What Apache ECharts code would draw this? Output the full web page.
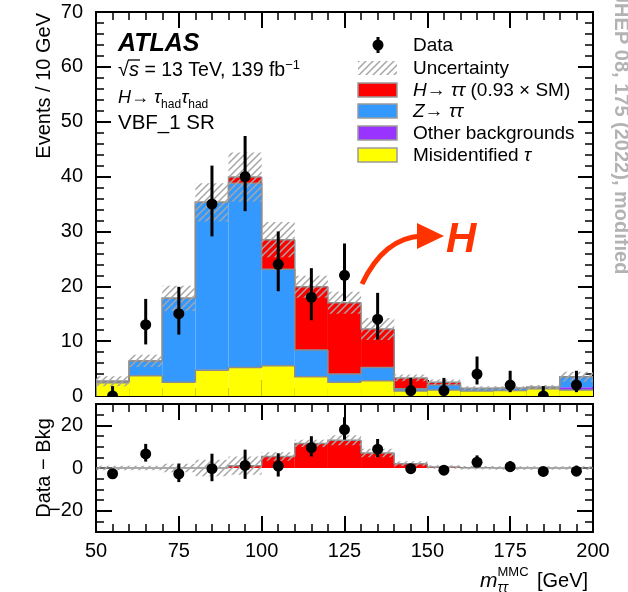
<!DOCTYPE html>
<html>
<head>
<meta charset="utf-8">
<script src="https://cdn.jsdelivr.net/npm/echarts@6/dist/echarts.min.js"></script>
<style>
html, body { margin: 0; padding: 0; background: #fff; }
#chart { width: 628px; height: 592px; }
</style>
</head>
<body>
<div id="chart"></div>
<script>
// bins of m_tautau (GeV)
var binEdges = [50, 60, 70, 80, 90, 100, 110, 120, 130, 140, 150, 160, 170, 180, 190, 200];
// stacked predictions, events per bin
var misidTau = [2.4, 3.7, 2.5, 4.7, 5.2, 5.5, 3.5, 2.5, 2.8, 0.9, 1.1, 0.9, 1.0, 1.3, 1.1];
var otherBkg = [0, 0, 0, 0.1, 0.1, 0.1, 0.1, 0, 0, 0, 0, 0, 0, 0, 0.5];
var zTauTau  = [0.3, 2.7, 15.3, 30.5, 33.5, 17.5, 4.8, 1.5, 2.4, 0.4, 0.9, 0.4, 0.4, 0.3, 1.9];
var hTauTau  = [0, 0, 0, 0, 1.1, 5.4, 11.5, 13.0, 7.0, 2.0, 0.5, 0.1, 0, 0, 0];
// half width of hatched uncertainty band, top panel and bottom panel
var bkgUnc  = [0.9, 1.1, 2.3, 3.5, 4.5, 3.2, 2.0, 2.0, 2.0, 0.6, 0.5, 0.4, 0.4, 0.4, 0.9];
var diffUnc = [1.0, 1.0, 2.0, 3.9, 4.3, 2.0, 1.7, 2.3, 2.0, 1.2, 0.8, 0.8, 0.8, 0.8, 0.8];
// data
var dataCounts  = [0, 13, 15, 35, 40, 24, 18, 22, 14, 1, 1, 4, 2, 0, 2];
var dataErrUp   = [1.8, 4.7, 4.9, 7.0, 7.4, 6.0, 5.3, 5.8, 4.8, 2.3, 2.3, 3.2, 2.6, 1.8, 2.6];
var dataErrDown = [0, 3.6, 3.8, 5.9, 6.3, 4.9, 4.2, 4.7, 3.7, 0.8, 0.8, 1.9, 1.3, 0, 1.3];

var FONT = '"Liberation Sans", Arial, sans-serif';
var RED = '#ff0000', BLUE = '#3399ff', PURPLE = '#9933ff', YELLOW = '#ffff00';
var EDGE = '#8c8c8c', ORANGE = '#ff3300';

var nBins = dataCounts.length;

function makeHatch() {
    var c = document.createElement('canvas');
    c.width = 7; c.height = 7;
    var g = c.getContext('2d');
    g.strokeStyle = '#a6a6a6';
    g.lineWidth = 1.5;
    g.beginPath();
    g.moveTo(0, 7); g.lineTo(7, 0);
    g.moveTo(-1, 1); g.lineTo(1, -1);
    g.moveTo(6, 8); g.lineTo(8, 6);
    g.stroke();
    return c;
}
var hatchFill = { image: makeHatch(), repeat: 'repeat' };

// cumulative stack
var lvl0 = [], lvl1 = [], lvl2 = [], lvl3 = [], lvl4 = [];
for (var i = 0; i < nBins; i++) {
    lvl0.push(0);
    lvl1.push(misidTau[i]);
    lvl2.push(lvl1[i] + otherBkg[i]);
    lvl3.push(lvl2[i] + zTauTau[i]);
    lvl4.push(lvl3[i] + hTauTau[i]);
}

function boxRows(low, high) {
    var rows = [];
    for (var i = 0; i < nBins; i++) rows.push([binEdges[i], binEdges[i + 1], low[i], high[i]]);
    return rows;
}
function stepRows(top) {
    var rows = [];
    for (var i = 0; i < nBins; i++) rows.push([binEdges[i], binEdges[i + 1], top[i], i ? top[i - 1] : 0]);
    return rows;
}

function boxSeries(xi, yi, rows, style) {
    return {
        type: 'custom', xAxisIndex: xi, yAxisIndex: yi, data: rows, silent: true, clip: true,
        renderItem: function (params, api) {
            var lo = api.value(2), hi = api.value(3);
            if (hi - lo <= 0) return null;
            var a = api.coord([api.value(0), hi]);
            var b = api.coord([api.value(1), lo]);
            return { type: 'rect', shape: { x: a[0], y: a[1], width: b[0] - a[0], height: b[1] - a[1] }, style: style };
        }
    };
}
function stepSeries(xi, yi, rows) {
    return {
        type: 'custom', xAxisIndex: xi, yAxisIndex: yi, data: rows, silent: true, clip: true,
        renderItem: function (params, api) {
            var p = api.coord([api.value(0), api.value(3)]);
            var q = api.coord([api.value(0), api.value(2)]);
            var r = api.coord([api.value(1), api.value(2)]);
            return { type: 'polyline', shape: { points: [p, q, r] }, style: { stroke: EDGE, lineWidth: 1.5, fill: null } };
        }
    };
}
function dataSeries(xi, yi, rows) {
    return {
        type: 'custom', xAxisIndex: xi, yAxisIndex: yi, data: rows, silent: true, clip: true,
        renderItem: function (params, api) {
            var x = api.value(0), y = api.value(1);
            var c = api.coord([x, y]);
            var t = api.coord([x, y + api.value(2)]);
            var b = api.coord([x, y - api.value(3)]);
            return {
                type: 'group', children: [
                    { type: 'line', shape: { x1: c[0], y1: t[1], x2: c[0], y2: b[1] }, style: { stroke: '#000', lineWidth: 3 } },
                    { type: 'circle', shape: { cx: c[0], cy: c[1], r: 5.5 }, style: { fill: '#000' } }
                ]
            };
        }
    };
}

var mainData = [], diffData = [], bandMain = [], bandDiff = [];
for (var i = 0; i < nBins; i++) {
    var xc = (binEdges[i] + binEdges[i + 1]) / 2;
    mainData.push([xc, dataCounts[i], dataErrUp[i], dataErrDown[i]]);
    diffData.push([xc, dataCounts[i] - lvl3[i], dataErrUp[i], dataErrDown[i]]);
    bandMain.push([binEdges[i], binEdges[i + 1], lvl4[i] - bkgUnc[i], lvl4[i] + bkgUnc[i]]);
    bandDiff.push([binEdges[i], binEdges[i + 1], hTauTau[i] - diffUnc[i], hTauTau[i] + diffUnc[i]]);
}

// axes
var axisLine = { onZero: false, lineStyle: { color: '#000', width: 2 } };
function xAxisDef(grid, pos, labels) {
    return {
        type: 'value', gridIndex: grid, position: pos, min: 50, max: 200, interval: 25,
        axisLine: axisLine,
        axisTick: { inside: true, length: 16, lineStyle: { color: '#000', width: 2 } },
        minorTick: { show: true, splitNumber: 5, length: 8, lineStyle: { color: '#000', width: 1.5 } },
        splitLine: { show: false }, minorSplitLine: { show: false },
        axisLabel: { show: labels, color: '#000', fontSize: 20, fontFamily: FONT, margin: 9 }
    };
}
function yMainDef(pos, labels) {
    return {
        type: 'value', gridIndex: 0, position: pos, min: 0, max: 70, interval: 10,
        axisLine: axisLine,
        axisTick: { inside: true, length: 15, lineStyle: { color: '#000', width: 2 } },
        minorTick: { show: true, splitNumber: 5, length: 8, lineStyle: { color: '#000', width: 1.5 } },
        splitLine: { show: false }, minorSplitLine: { show: false },
        axisLabel: { show: labels, color: '#000', fontSize: 20, fontFamily: FONT, margin: 13 }
    };
}
function yDiffMinor(pos) {
    return {
        type: 'value', gridIndex: 1, position: pos, min: -30, max: 30, interval: 5,
        axisLine: axisLine,
        axisTick: { inside: true, length: 8, lineStyle: { color: '#000', width: 1.5 } },
        splitLine: { show: false },
        axisLabel: { show: false }
    };
}
function yDiffMajor(pos, labels) {
    return {
        type: 'value', gridIndex: 1, position: pos, min: -30, max: 30, interval: 10,
        axisLine: { show: false, onZero: false },
        axisTick: { inside: true, length: 16, customValues: [-20, 0, 20], lineStyle: { color: '#000', width: 2 } },
        splitLine: { show: false },
        axisLabel: {
            show: labels, customValues: [-20, 0, 20], color: '#000', fontSize: 20, fontFamily: FONT, margin: 13,
            formatter: function (v) { return v < 0 ? '\u2212' + (-v) : String(v); }
        }
    };
}

// text helpers
var mctx = document.createElement('canvas').getContext('2d');
function textEl(x, y, text, size, opt) {
    opt = opt || {};
    var fs = opt.italic ? 'italic' : 'normal', fw = opt.bold ? 'bold' : 'normal';
    return {
        type: 'text', x: x, y: y, rotation: opt.rotation || 0, silent: true, z: 100,
        style: {
            text: text, fill: opt.color || '#000', fontSize: size, fontFamily: FONT, fontStyle: fs, fontWeight: fw,
            align: opt.align || 'left', textAlign: opt.align || 'left',
            verticalAlign: 'middle', textVerticalAlign: 'middle'
        }
    };
}
function textRun(x, baseline, pieces, out, color) {
    pieces.forEach(function (p) {
        var size = p[1], opt = p[2] || {};
        mctx.font = (opt.italic ? 'italic ' : '') + (opt.bold ? 'bold ' : '') + size + 'px ' + FONT;
        var w = mctx.measureText(p[0]).width;
        var px = x;
        out.push(textEl(px, baseline + (opt.shift || 0) - 0.31 * size, p[0], size,
            { italic: opt.italic, bold: opt.bold, color: color }));
        p.w = w; p.x = px;
        if (!opt.keep) x = px + w;
    });
    return x;
}

var g = [];
// ATLAS label block
textRun(118, 52, [['ATLAS', 25, { bold: true, italic: true }]], g);
var sq = [['\u221a', 20], ['s', 20, { italic: true }], [' = 13 TeV, 139 fb', 19.5], ['\u22121', 13, { shift: -8 }]];
textRun(118, 77, sq, g);
g.push({ type: 'line', silent: true, z: 100, shape: { x1: sq[0].x + sq[0].w - 1, y1: 60, x2: sq[1].x + sq[1].w + 1, y2: 60 }, style: { stroke: '#000', lineWidth: 1.3 } });
textRun(118, 104, [['H', 18, { italic: true }], ['\u2192 ', 18], ['\u03c4', 19, { italic: true }], ['had', 12, { shift: 4 }],
    ['\u03c4', 19, { italic: true }], ['had', 12, { shift: 4 }]], g);
textRun(118, 130, [['VBF_1 SR', 20.5]], g);

// legend
var legX = 413, boxX = 358, boxW = 39;
var legBase = [52, 75, 97, 118, 140, 162];
g.push({ type: 'line', silent: true, z: 100, shape: { x1: 378, y1: 37, x2: 378, y2: 53 }, style: { stroke: '#000', lineWidth: 3 } });
g.push({ type: 'circle', silent: true, z: 100, shape: { cx: 378, cy: 45, r: 5.5 }, style: { fill: '#000' } });
textRun(legX, legBase[0], [['Data', 19]], g);
g.push({ type: 'rect', silent: true, z: 100, shape: { x: boxX, y: legBase[1] - 14, width: boxW, height: 14 }, style: { fill: hatchFill } });
textRun(legX, legBase[1], [['Uncertainty', 19]], g);
[RED, BLUE, PURPLE, YELLOW].forEach(function (col, k) {
    g.push({ type: 'rect', silent: true, z: 100, shape: { x: boxX, y: legBase[k + 2] - 14, width: boxW, height: 14 }, style: { fill: col, stroke: '#9a9a9a', lineWidth: 1.5 } });
});
textRun(legX, legBase[2], [['H', 19, { italic: true }], ['\u2192 ', 19], ['\u03c4\u03c4', 19, { italic: true }], [' (0.93 \u00d7 SM)', 19]], g);
textRun(legX, legBase[3], [['Z', 19, { italic: true }], ['\u2192 ', 19], ['\u03c4\u03c4', 19, { italic: true }]], g);
textRun(legX, legBase[4], [['Other backgrounds', 19]], g);
textRun(legX, legBase[5], [['Misidentified ', 19], ['\u03c4', 19, { italic: true }]], g);

// axis titles
g.push(textEl(44, 13, 'Events / 10 GeV', 20, { rotation: Math.PI / 2, align: 'right' }));
g.push(textEl(44, 468, 'Data \u2212 Bkg', 20, { rotation: Math.PI / 2, align: 'center' }));
textRun(480, 588, [['m', 21, { italic: true }], ['MMC', 13, { shift: -12, keep: true }], ['\u03c4\u03c4', 14, { italic: true, shift: 4 }]], g);
textRun(537, 588, [['[GeV]', 20]], g);

// H annotation
g.push({ type: 'bezierCurve', silent: true, z: 100, shape: { x1: 362, y1: 284, cpx1: 384, cpy1: 238, x2: 421, y2: 236 }, style: { stroke: ORANGE, lineWidth: 5, fill: null } });
g.push({ type: 'polygon', silent: true, z: 100, shape: { points: [[417, 223], [444, 236], [417, 249]] }, style: { fill: ORANGE } });
textRun(446, 253, [['H', 42, { bold: true, italic: true }]], g, ORANGE);

// journal reference
g.push(textEl(621, -8, 'JHEP 08, 175 (2022), modified', 20, { rotation: -Math.PI / 2, bold: true, color: '#b3b3b3' }));

var option = {
    animation: false,
    backgroundColor: '#fff',
    grid: [
        { left: 96, top: 12, width: 497, height: 384 },
        { left: 96, top: 404, width: 497, height: 128 }
    ],
    xAxis: [xAxisDef(0, 'bottom', false), xAxisDef(0, 'top', false), xAxisDef(1, 'bottom', true), xAxisDef(1, 'top', false)],
    yAxis: [yMainDef('left', true), yMainDef('right', false), yDiffMinor('left'), yDiffMajor('left', true), yDiffMinor('right'), yDiffMajor('right', false)],
    series: [
        boxSeries(0, 0, boxRows(lvl0, lvl1), { fill: YELLOW }),
        boxSeries(0, 0, boxRows(lvl1, lvl2), { fill: PURPLE }),
        boxSeries(0, 0, boxRows(lvl2, lvl3), { fill: BLUE }),
        boxSeries(0, 0, boxRows(lvl3, lvl4), { fill: RED }),
        stepSeries(0, 0, stepRows(lvl1)),
        stepSeries(0, 0, stepRows(lvl3)),
        stepSeries(0, 0, stepRows(lvl4)),
        boxSeries(0, 0, bandMain, { fill: hatchFill }),
        dataSeries(0, 0, mainData),
        boxSeries(2, 2, boxRows(lvl0, hTauTau), { fill: RED }),
        stepSeries(2, 2, stepRows(hTauTau)),
        boxSeries(2, 2, bandDiff, { fill: hatchFill }),
        dataSeries(2, 2, diffData)
    ],
    graphic: { elements: g }
};

var chart = echarts.init(document.getElementById('chart'));
chart.setOption(option);
</script>
</body>
</html>
